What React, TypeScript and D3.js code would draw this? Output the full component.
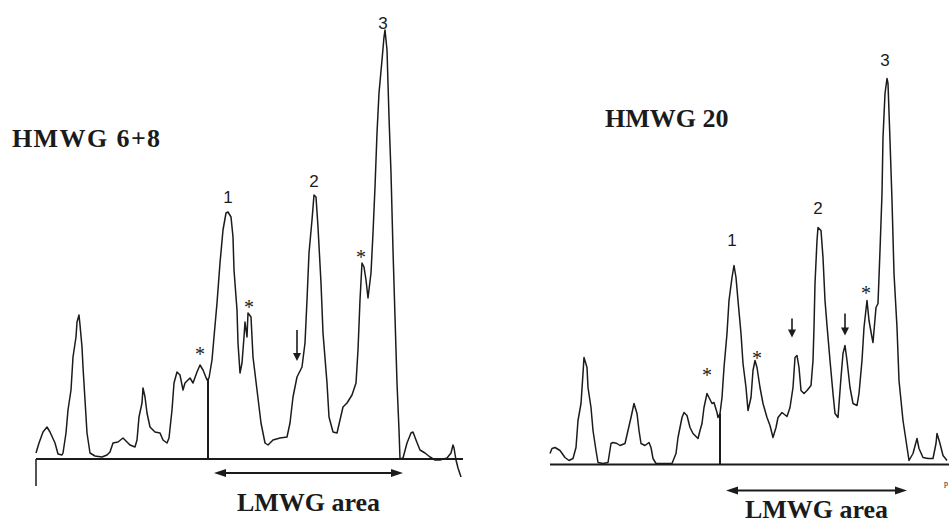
import React from 'react';
import { scaleLinear, line, curveLinear } from 'd3';

// densitometer traces: [position, signal] above baseline
const leftTrace: [number, number][] = [
  [0, 6], [3, 16], [7, 27], [11, 32], [14, 27], [19, 16], [22, 5], [26, 4], [27, 6], [30, 26],
  [32, 49], [35, 69], [37, 102], [40, 122], [41, 137], [43, 144], [44, 134], [46, 112], [47, 92],
  [49, 59], [51, 26], [54, 6], [59, 3], [66, 2], [71, 4], [74, 7], [77, 16], [82, 17], [87, 21],
  [91, 17], [94, 14], [99, 12], [101, 19], [103, 42], [106, 56], [107, 71], [109, 62], [111, 46],
  [114, 32], [119, 27], [124, 26], [127, 19], [131, 16], [133, 21], [136, 49], [138, 76], [141, 87],
  [144, 84], [147, 69], [149, 76], [152, 79], [154, 81], [157, 76], [161, 87], [164, 94], [167, 89],
  [171, 79], [173, 81], [176, 99], [178, 122], [181, 156], [184, 196], [187, 229], [190, 246],
  [192, 247], [195, 242], [197, 222], [198, 189], [201, 149], [202, 116], [204, 86], [206, 96],
  [208, 122], [209, 137], [211, 122], [212, 146], [215, 142], [217, 102], [221, 69], [225, 36],
  [229, 16], [232, 14], [237, 19], [244, 21], [251, 22], [254, 36], [257, 62], [261, 82], [266, 92],
  [269, 116], [271, 159], [273, 206], [276, 239], [278, 264], [280, 262], [282, 232], [285, 176],
  [287, 126], [291, 76], [293, 42], [297, 27], [301, 26], [304, 39], [307, 52], [311, 56], [316, 64],
  [320, 76], [322, 109], [324, 159], [326, 196], [328, 192], [330, 179], [332, 161], [335, 186],
  [337, 226], [339, 272], [341, 326], [343, 366], [346, 399], [348, 422], [349, 429], [351, 409],
  [353, 342], [355, 286], [357, 209], [359, 142], [361, 76], [363, 29], [364, 0], [367, 1], [371, 16],
  [375, 26], [377, 27], [380, 19], [384, 9], [389, 6], [394, 2], [399, -1], [404, -1], [411, 1],
  [415, 6], [417, 14], [418, 11], [420, -1], [422, -9], [425, -18],
];

const rightTrace: [number, number][] = [
  [0, 11], [2, 16], [5, 17], [10, 14], [15, 7], [19, 4], [23, 6], [26, 17], [28, 44], [31, 61],
  [33, 91], [34, 107], [37, 97], [38, 77], [41, 57], [43, 34], [46, 14], [48, 2], [53, 1], [58, 2],
  [61, 21], [63, 22], [67, 21], [70, 19], [75, 21], [78, 34], [81, 47], [84, 61], [87, 51], [89, 34],
  [91, 21], [95, 19], [99, 22], [101, 17], [103, 6], [106, 1], [112, 1], [118, 1], [122, 1], [126, 11],
  [128, 27], [132, 47], [134, 52], [137, 49], [140, 37], [143, 31], [148, 26], [150, 34], [152, 41],
  [154, 57], [157, 71], [159, 67], [162, 61], [164, 62], [167, 52], [168, 47], [170, 51], [172, 67],
  [174, 97], [177, 131], [179, 164], [182, 187], [184, 199], [186, 187], [188, 164], [191, 131],
  [193, 101], [196, 77], [198, 54], [201, 67], [203, 94], [205, 104], [207, 97], [210, 77], [213, 61],
  [217, 47], [220, 39], [223, 27], [226, 37], [228, 47], [232, 52], [237, 48], [240, 57], [243, 77],
  [245, 107], [247, 109], [249, 97], [251, 74], [254, 71], [257, 74], [261, 79], [263, 104], [264, 137],
  [265, 181], [267, 224], [268, 237], [271, 234], [273, 207], [275, 164], [277, 139], [280, 104],
  [283, 71], [285, 51], [288, 47], [291, 87], [293, 111], [295, 119], [297, 104], [300, 77], [303, 61],
  [307, 59], [309, 71], [312, 104], [314, 137], [317, 164], [319, 144], [322, 127], [323, 122],
  [326, 157], [328, 161], [330, 214], [332, 271], [333, 327], [335, 371], [337, 386], [338, 381],
  [340, 324], [342, 264], [344, 191], [347, 137], [349, 84], [353, 44], [356, 24], [359, 4], [363, 11],
  [367, 26], [369, 16], [373, 7], [378, 6], [383, 6], [386, 21], [387, 31], [390, 21], [393, 9], [397, 4],
];

// peak numbers: [label, position, signal]
const leftPeaks: [string, number, number][] = [['1', 192, 256], ['2', 278, 272], ['3', 347, 430]];
const rightPeaks: [string, number, number][] = [['1', 182, 219], ['2', 268, 251], ['3', 335, 399]];

// asterisks (centre) and down arrows (top, tip)
const leftStars: [number, number][] = [[164, 107], [213, 154], [325, 204]];
const rightStars: [number, number][] = [[157, 92], [207, 109], [316, 174]];
const leftArrows: [number, number, number][] = [[261, 129, 98]];
const rightArrows: [number, number, number][] = [[242, 146, 127], [295, 151, 129]];

// LMWG area: start cut, end, arrow level
const leftArea = { cut: 172, cutTop: 80, end: 367, level: -14 };
const rightArea = { cut: 170, cutTop: 51, end: 357, level: -26 };

const titles = ['HMWG 6+8', 'HMWG 20'];

const W = 952;
const H = 526;
const ink = '#1b1b1b';

type PanelProps = {
  trace: [number, number][];
  peaks: [string, number, number][];
  stars: [number, number][];
  arrows: [number, number, number][];
  area: { cut: number; cutTop: number; end: number; level: number };
  title: string;
  x0: number; x1: number; xMax: number; base: number;
  titleX: number; titleY: number; titleSpacing: number; areaTextY: number; tick: boolean;
};

function Panel(p: PanelProps) {
  const x = scaleLinear().domain([0, p.xMax]).range([p.x0, p.x1]);
  const y = scaleLinear().domain([0, 450]).range([p.base, p.base - 450]);
  const path = line<[number, number]>().x(d => x(d[0])).y(d => y(d[1])).curve(curveLinear)(p.trace) || '';
  const ay = y(p.area.level);
  const ax0 = x(p.area.cut) + 6;
  const ax1 = x(p.area.end);
  return (
    <g>
      <text x={p.titleX} y={p.titleY} fontFamily="Liberation Serif, serif" fontWeight="bold" fontSize={26}
        letterSpacing={p.titleSpacing} fill={ink}>{p.title}</text>
      <line x1={x(0)} x2={x(p.xMax) + 2} y1={y(0)} y2={y(0)} stroke={ink} strokeWidth={2} />
      {p.tick && <line x1={x(0)} x2={x(0)} y1={y(0)} y2={y(-27)} stroke={ink} strokeWidth={1.5} />}
      <line x1={x(p.area.cut)} x2={x(p.area.cut)} y1={y(0)} y2={y(p.area.cutTop)} stroke={ink} strokeWidth={2} />
      <path d={path} fill="none" stroke={ink} strokeWidth={1.5} strokeLinejoin="round" />
      {p.peaks.map(([t, px, py]) => (
        <text key={t} x={x(px)} y={y(py)} textAnchor="middle" fontFamily="Liberation Sans, Arial, sans-serif" fontSize={17} fill={ink}>{t}</text>
      ))}
      {p.stars.map(([sx, sy], i) => (
        <text key={i} x={x(sx)} y={y(sy) + 9} textAnchor="middle" fontFamily="Liberation Serif, serif" fontSize={20} fill={ink}>*</text>
      ))}
      {p.arrows.map(([ax, top, tip], i) => (
        <g key={i}>
          <line x1={x(ax)} x2={x(ax)} y1={y(top)} y2={y(tip) - 6} stroke={ink} strokeWidth={1.6} />
          <path d={`M${x(ax) - 4},${y(tip) - 8}L${x(ax) + 4},${y(tip) - 8}L${x(ax)},${y(tip)}Z`} fill={ink} />
        </g>
      ))}
      <line x1={ax0 + 8} x2={ax1 - 8} y1={ay} y2={ay} stroke={ink} strokeWidth={2} />
      <path d={`M${ax0},${ay}L${ax0 + 12},${ay - 4}L${ax0 + 12},${ay + 4}Z`} fill={ink} />
      <path d={`M${ax1},${ay}L${ax1 - 12},${ay - 4}L${ax1 - 12},${ay + 4}Z`} fill={ink} />
      <text x={(ax0 + ax1) / 2} y={p.areaTextY} textAnchor="middle" fontFamily="Liberation Serif, serif" fontWeight="bold" fontSize={26} fill={ink}>LMWG area</text>
    </g>
  );
}

export default function App() {
  return (
    <svg width={W} height={H} style={{ position: 'absolute', left: 0, top: 0, background: '#fff' }}>
      <rect width={W} height={H} fill="#fff" />
      <Panel trace={leftTrace} peaks={leftPeaks} stars={leftStars} arrows={leftArrows} area={leftArea}
        title={titles[0]} x0={36} x1={461} xMax={425} base={459}
        titleX={12} titleY={147} titleSpacing={1.4} areaTextY={511} tick={true} />
      <Panel trace={rightTrace} peaks={rightPeaks} stars={rightStars} arrows={rightArrows} area={rightArea}
        title={titles[1]} x0={550} x1={947} xMax={397} base={464.5}
        titleX={605} titleY={127} titleSpacing={0} areaTextY={518} tick={false} />
      <text x={946} y={486} textAnchor="middle" fontFamily="Liberation Serif, serif" fontSize={8} fill={ink}>p</text>
    </svg>
  );
}
